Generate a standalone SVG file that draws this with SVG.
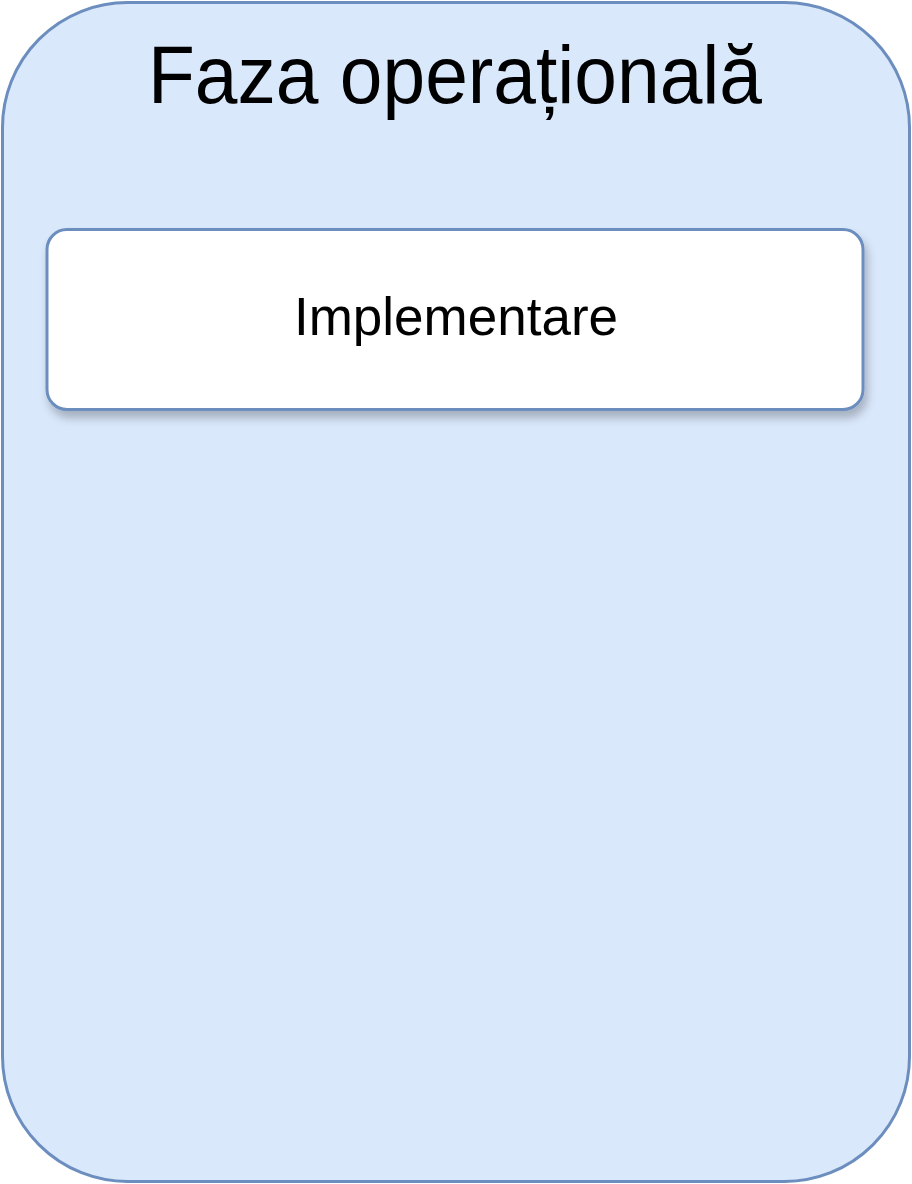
<svg xmlns="http://www.w3.org/2000/svg" width="912" height="1184" viewBox="0 0 912 1184">
  <defs>
    <filter id="shadow" x="-10%" y="-20%" width="120%" height="150%">
      <feGaussianBlur in="SourceAlpha" stdDeviation="5"/>
      <feOffset dx="3" dy="7" result="b"/>
      <feComponentTransfer><feFuncA type="linear" slope="0.25"/></feComponentTransfer>
      <feMerge><feMergeNode/><feMergeNode in="SourceGraphic"/></feMerge>
    </filter>
  </defs>
  <style>
    .outer { fill: #dae8fc; stroke: #6c8ebf; stroke-width: 3; }
    .box { fill: #ffffff; stroke: #6c8ebf; stroke-width: 3; }
    .t { font-family: "Liberation Sans", Arial, sans-serif; fill: #000000; text-anchor: middle; }
  </style>
  <rect width="912" height="1184" fill="#ffffff"/>
  <g id="faza-operationala">
    <rect class="outer" x="2.5" y="2.5" width="907" height="1179" rx="125" ry="125"/>
    <text class="t" x="455" y="103" font-size="81" textLength="614" lengthAdjust="spacingAndGlyphs">Faza operațională</text>
  </g>
  <g id="implementare" filter="url(#shadow)">
    <rect class="box" x="47" y="229.5" width="816" height="180" rx="20" ry="20"/>
    <text class="t" x="456" y="335" font-size="53">Implementare</text>
  </g>
  <g id="connectors"/>
</svg>
